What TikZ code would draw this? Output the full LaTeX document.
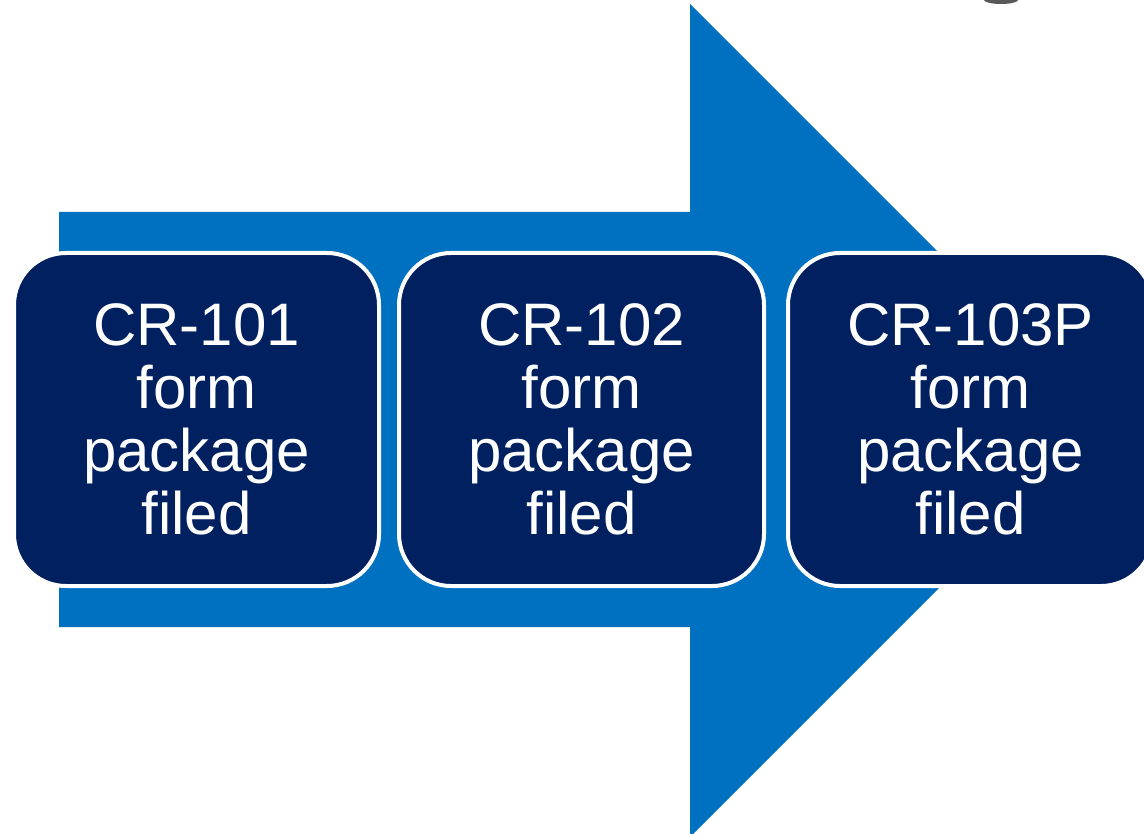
\documentclass[tikz,border=0pt]{standalone}
\usepackage{fontspec}
\setmainfont{Liberation Sans}
\definecolor{arrowblue}{HTML}{0070C0}
\definecolor{navy}{HTML}{002060}
\definecolor{titlegray}{HTML}{595959}
\begin{document}
\begin{tikzpicture}[x=1pt,y=-1pt,
  stepbox/.style={draw=white, line width=4pt, fill=navy, rounded corners=52pt,
    minimum width=365pt, minimum height=333pt, inner sep=0pt, align=center,
    text=white, font=\fontsize{60}{63}\selectfont}]
\useasboundingbox (0,0) rectangle (1144,834);
% partial title glyph at top edge
\fill[titlegray] (984,0) arc[start angle=180, end angle=360, x radius=17pt, y radius=4pt] -- cycle;
% big arrow
\fill[arrowblue] (59,212) -- (690,212) -- (690,4) -- (1106.5,420.5) -- (690,837) -- (690,627) -- (59,627) -- cycle;
% boxes
\node[stepbox] (b1) at (196.5,419.5) {CR-101\\form\\package\\filed};
\node[stepbox] (b2) at (581.5,419.5) {CR-102\\form\\package\\filed};
\node[stepbox] (b3) at (970.5,419.5) {CR-103P\\form\\package\\filed};
\end{tikzpicture}
\end{document}
